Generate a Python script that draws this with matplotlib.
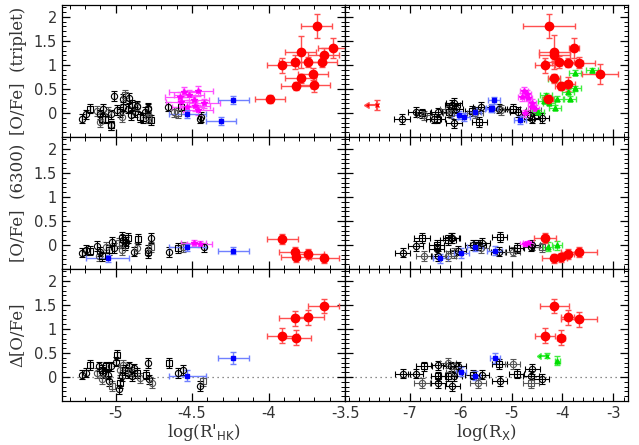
import numpy as np
import matplotlib
matplotlib.use("Agg")
import matplotlib.pyplot as plt
from matplotlib.ticker import MultipleLocator, FixedLocator, FormatStrFormatter

# ---------------- data ----------------
# top-left: [O/Fe] triplet vs log R'HK
tl_red_x = [-3.685, -3.58, -3.79, -3.64, -3.91, -3.83, -3.74, -3.65, -3.79, -3.71, -3.82, -3.70, -3.99]
tl_red_y = [1.81, 1.35, 1.27, 1.20, 0.99, 1.06, 1.06, 1.07, 0.72, 0.81, 0.56, 0.59, 0.29]
tl_red_ye = [0.25, 0.2, 0.33, 0.15, 0.15, 0.15, 0.1, 0.12, 0.1, 0.12, 0.08, 0.15, 0.08]
tl_blue_x = [-4.23, -4.31, -4.53]
tl_blue_y = [0.27, -0.17, -0.02]
tl_blue_xe = [0.1, 0.1, 0.12]
tl_mag_x = [-4.58, -4.55, -4.52, -4.46, -4.49, -4.53, -4.46, -4.42, -4.48, -4.57]
tl_mag_y = [0.33, 0.44, 0.37, 0.46, 0.26, 0.13, 0.06, 0.20, 0.14, 0.23]
tl_blk_x = [-5.22, -5.19, -5.17, -5.12, -5.10, -5.09, -5.08, -5.05, -5.03, -5.01, -4.95, -4.94,
            -4.91, -4.95, -4.97, -4.96, -4.92, -4.89, -4.87, -4.86, -4.84, -4.81, -4.79, -4.78,
            -5.03, -4.99, -5.07, -5.10, -4.90, -4.82, -4.66, -4.62, -4.57, -4.44, -4.45, -4.59,
            -4.86, -4.79, -4.77, -4.79, -5.03]
tl_blk_y = [-0.12, -0.03, 0.09, 0.04, -0.03, -0.12, 0.09, 0.02, -0.26, 0.35, 0.29, 0.37,
            0.31, 0.13, 0.02, -0.08, 0.09, 0.16, 0.02, 0.13, -0.08, 0.02, 0.09, -0.12,
            -0.03, 0.06, -0.12, -0.19, -0.05, -0.10, 0.13, 0.02, 0.13, -0.08, -0.12, 0.0,
            0.14, 0.11, -0.15, -0.08, -0.26]

# top-right: [O/Fe] triplet vs log Rx
tr_red_x = [-4.26, -4.16, -4.16, -3.77, -4.34, -4.07, -3.90, -3.68, -3.26, -4.17, -4.03, -3.90, -4.29]
tr_red_y = [1.81, 1.27, 1.20, 1.35, 0.99, 1.06, 1.05, 1.05, 0.81, 0.72, 0.56, 0.60, 0.29]
tr_red_xe = [0.51, 0.3, 0.3, 0.1, 0.2, 0.3, 0.3, 0.32, 0.36, 0.12, 0.12, 0.15, 0.1]
tr_red_ye = [0.25, 0.35, 0.12, 0.2, 0.15, 0.12, 0.1, 0.12, 0.2, 0.1, 0.08, 0.15, 0.08]
tr_redlim_x = [-7.65]
tr_redlim_y = [0.16]
tr_grn_x = [-3.42, -3.76, -4.17, -3.76, -3.89, -3.85, -4.11, -4.29, -4.37, -4.26, -4.14, -4.48, -4.32]
tr_grn_y = [0.89, 0.84, 0.70, 0.51, 0.44, 0.30, 0.30, 0.28, 0.25, 0.21, 0.11, 0.02, 0.37]
tr_mag_x = [-4.76, -4.70, -4.80, -4.67, -4.60, -4.54, -4.73, -4.60]
tr_mag_y = [0.46, 0.40, 0.33, 0.32, 0.20, 0.09, -0.01, 0.12]
tr_blue_x = [-6.04, -5.94, -5.35, -5.38, -5.40, -4.84, -5.72]
tr_blue_y = [-0.05, -0.08, 0.26, 0.10, 0.09, -0.15, 0.02]
tr_blk_x = [-7.15, -6.88, -6.75, -6.71, -6.44, -6.46, -6.53, -6.25, -6.22, -6.16, -6.13, -6.19,
            -6.13, -6.10, -5.77, -5.72, -5.60, -5.63, -5.24, -5.20, -4.98, -4.88, -4.60, -4.57,
            -4.41, -4.64]
tr_blk_y = [-0.13, 0.02, -0.01, -0.05, 0.01, -0.12, -0.12, 0.09, 0.02, 0.16, 0.21, -0.01,
            -0.22, 0.09, 0.04, -0.01, 0.13, -0.19, 0.09, 0.06, 0.09, 0.02, -0.12, 0.06,
            -0.10, -0.05]

# middle-left: [O/Fe] 6300 vs log R'HK
ml_red_x = [-3.91, -3.83, -3.82, -3.74, -3.64]
ml_red_y = [0.125, -0.15, -0.26, -0.19, -0.28]
ml_blue_x = [-4.23, -4.53, -5.05]
ml_blue_y = [-0.12, -0.05, -0.28]
ml_blue_xe = [0.1, 0.12, 0.14]
ml_mag_x = [-4.49, -4.45]
ml_mag_y = [0.035, 0.015]
ml_blk_x = [-5.22, -5.19, -5.17, -5.11, -5.10, -5.09, -5.12, -5.06, -5.04, -5.02, -5.01, -4.98,
            -4.96, -4.95, -4.94, -4.96, -4.93, -4.92, -4.88, -4.86, -4.85, -4.79, -4.79, -4.77,
            -4.77, -4.65, -4.59, -4.56, -4.42]
ml_blk_y = [-0.16, -0.10, -0.12, -0.23, -0.14, -0.24, -0.02, -0.04, -0.10, 0.07, -0.07, 0.035,
            0.17, 0.10, 0.0, -0.10, 0.07, 0.14, -0.14, -0.07, 0.12, -0.10, -0.17, -0.04,
            0.14, -0.15, -0.07, -0.04, -0.05]

# middle-right: [O/Fe] 6300 vs log Rx
mr_red_x = [-4.34, -4.16, -4.03, -3.90, -3.68]
mr_red_y = [0.14, -0.28, -0.26, -0.19, -0.15]
mr_red_xe = [0.21, 0.25, 0.12, 0.12, 0.35]
mr_grn_x = [-4.29, -4.10]
mr_grn_y = [-0.035, -0.01]
mr_mag_x = [-4.73, -4.67]
mr_mag_y = [0.02, 0.035]
mr_blue_x = [-6.40, -5.99, -5.72, -5.33]
mr_blue_y = [-0.28, -0.17, -0.035, -0.12]
mr_blk_x = [-7.14, -6.88, -6.76, -6.72, -6.44, -6.47, -6.47, -6.25, -6.25, -6.19, -6.16, -6.13,
            -6.05, -5.76, -5.66, -5.60, -5.58, -5.23, -5.25, -4.98, -4.90, -4.62, -4.60, -4.41]
mr_blk_y = [-0.16, -0.02, 0.14, -0.23, -0.23, 0.0, -0.09, -0.23, 0.10, 0.14, 0.15, -0.17,
            -0.12, 0.0, 0.0, -0.07, 0.05, 0.16, -0.14, -0.14, -0.07, -0.035, 0.0, -0.05]

# bottom-left: delta[O/Fe] vs log R'HK
bl_red_x = [-3.64, -3.74, -3.83, -3.91, -3.82]
bl_red_y = [1.48, 1.24, 1.22, 0.86, 0.82]
bl_blue_x = [-4.23, -4.53]
bl_blue_y = [0.40, 0.03]
bl_blue_xe = [0.1, 0.12]
bl_blk_x = [-5.22, -5.19, -5.17, -5.12, -5.11, -5.09, -5.08, -5.09, -5.06, -5.05, -5.04, -5.02,
            -5.03, -5.00, -4.99, -4.97, -4.96, -4.97, -4.98, -4.95, -4.94, -4.92, -4.91, -4.90,
            -4.89, -4.88, -4.86, -4.84, -4.79, -4.80, -4.78, -4.76, -4.65, -4.59, -4.56, -4.43,
            -4.45]
bl_blk_y = [0.05, 0.09, 0.25, 0.08, 0.22, 0.15, 0.08, -0.05, 0.22, 0.05, -0.09, -0.19,
            0.22, 0.32, 0.46, 0.15, 0.01, -0.12, -0.26, 0.25, 0.15, 0.08, 0.22, 0.11,
            0.01, 0.18, 0.08, -0.02, 0.29, 0.05, -0.05, -0.12, 0.29, 0.08, 0.15, -0.09,
            -0.19]

# bottom-right: delta[O/Fe] vs log Rx
br_red_x = [-4.16, -3.90, -3.68, -4.34, -4.03]
br_red_y = [1.48, 1.24, 1.20, 0.86, 0.82]
br_red_xe = [0.29, 0.12, 0.35, 0.2, 0.08]
br_grn_x = [-4.10]
br_grn_y = [0.34]
br_grnlim_x = [-4.31]
br_grnlim_y = [0.44]
br_blue_x = [-5.33, -5.99, -5.72]
br_blue_y = [0.40, 0.11, 0.03]
br_blk_x = [-7.14, -6.88, -6.72, -6.76, -6.44, -6.44, -6.44, -6.25, -6.25, -6.19, -6.16, -6.13,
            -6.13, -6.05, -5.76, -5.66, -5.59, -5.24, -5.23, -4.98, -4.90, -4.62, -4.59, -4.62,
            -4.41]
br_blk_y = [0.07, 0.07, 0.22, -0.12, 0.24, 0.01, -0.12, 0.29, 0.01, 0.22, -0.19, 0.11,
            0.01, 0.22, 0.05, -0.12, 0.05, 0.27, -0.09, 0.27, 0.07, 0.03, 0.16, -0.12,
            -0.04]

y_ticks = [0, 0.5, 1, 1.5, 2]
left_xticks = [-5, -4.5, -4, -3.5]
right_xticks = [-7, -6, -5, -4, -3]

# ---------------- styles ----------------
RED = dict(fmt='o', color='#ff0000', ms=6, ecolor='#ff5050', elinewidth=1.0, capsize=2.5)
BLUE = dict(fmt='s', color='#0000ff', ms=3.5, ecolor='#7080ff', elinewidth=1.0, capsize=2.5)
MAG = dict(fmt='*', color='#ff00ff', ms=4, ecolor='#ff50ff', elinewidth=0.9, capsize=2)
GRN = dict(fmt='^', color='#00dd00', ms=3.5, ecolor='#40ee40', elinewidth=0.9, capsize=2)


def black(ax, x, y, xe, ye):
    for i, (xi, yi) in enumerate(zip(x, y)):
        m = 's' if i % 3 == 2 else 'o'
        c = '#555555' if i % 4 == 3 else 'black'
        ax.errorbar(xi, yi, xerr=xe, yerr=ye, fmt=m, ms=4.5 if m == 'o' else 4,
                    mfc='none', mec=c, mew=0.8, ecolor=c, elinewidth=0.8, capsize=2.2)


fig, axes = plt.subplots(3, 2, figsize=(6.39, 4.45), dpi=100, sharey=True)
fig.subplots_adjust(left=0.097, right=0.983, top=0.989, bottom=0.099, wspace=0, hspace=0)

(a1, b1), (a2, b2), (a3, b3) = axes

# top row
black(a1, tl_blk_x, tl_blk_y, 0, 0.1)
a1.errorbar(tl_mag_x, tl_mag_y, xerr=0.1, yerr=0.1, **MAG)
a1.errorbar(tl_blue_x, tl_blue_y, xerr=tl_blue_xe, yerr=0.08, **BLUE)
a1.errorbar(tl_red_x, tl_red_y, xerr=0.1, yerr=tl_red_ye, **RED)

black(b1, tr_blk_x, tr_blk_y, 0.15, 0.1)
b1.errorbar(tr_mag_x, tr_mag_y, xerr=0.08, yerr=0.08, **MAG)
b1.errorbar(tr_grn_x, tr_grn_y, xerr=0.12, yerr=0.05, **GRN)
b1.errorbar(tr_blue_x, tr_blue_y, xerr=0.12, yerr=0.08, **BLUE)
b1.errorbar(tr_red_x, tr_red_y, xerr=tr_red_xe, yerr=tr_red_ye, **RED)
b1.errorbar(tr_redlim_x, tr_redlim_y, xerr=0.15, yerr=0.1, xuplims=True, fmt='x',
            color='#ff0000', ms=3, ecolor='#ff5050', capsize=2.5)

# middle row
black(a2, ml_blk_x, ml_blk_y, 0, 0.1)
a2.errorbar(ml_mag_x, ml_mag_y, xerr=0.08, yerr=0.06, **MAG)
a2.errorbar(ml_blue_x, ml_blue_y, xerr=ml_blue_xe, yerr=0.07, **BLUE)
a2.errorbar(ml_red_x, ml_red_y, xerr=0.1, yerr=0.1, **RED)

black(b2, mr_blk_x, mr_blk_y, 0.15, 0.1)
b2.errorbar(mr_mag_x, mr_mag_y, xerr=0.1, yerr=0.05, **MAG)
b2.errorbar(mr_grn_x, mr_grn_y, xerr=0.1, yerr=0.1, **GRN)
b2.errorbar(mr_blue_x, mr_blue_y, xerr=0.15, yerr=0.1, **BLUE)
b2.errorbar(mr_red_x, mr_red_y, xerr=mr_red_xe, yerr=0.1, **RED)

# bottom row
black(a3, bl_blk_x, bl_blk_y, 0, 0.1)
a3.errorbar(bl_blue_x, bl_blue_y, xerr=bl_blue_xe, yerr=0.12, **BLUE)
a3.errorbar(bl_red_x, bl_red_y, xerr=0.1, yerr=0.15, **RED)

black(b3, br_blk_x, br_blk_y, 0.15, 0.1)
b3.errorbar(br_blue_x, br_blue_y, xerr=0.1, yerr=0.1, **BLUE)
b3.errorbar(br_grn_x, br_grn_y, xerr=0.05, yerr=0.1, **GRN)
b3.errorbar(br_grnlim_x, br_grnlim_y, xerr=0.12, yerr=0.05, xuplims=True, fmt='x',
            color='#00dd00', ms=3, ecolor='#40ee40', capsize=2)
b3.errorbar(br_red_x, br_red_y, xerr=br_red_xe, yerr=0.15, **RED)

for ax in (a3, b3):
    ax.axhline(0, color='#666666', ls=(0, (1, 3)), lw=0.9, zorder=0)

for ax in (a1, a2, a3):
    ax.set_xlim(-5.35, -3.5)
    ax.xaxis.set_major_locator(FixedLocator(left_xticks))
    ax.xaxis.set_minor_locator(MultipleLocator(0.1))
for ax in (b1, b2, b3):
    ax.set_xlim(-8.27, -2.71)
    ax.xaxis.set_major_locator(FixedLocator(right_xticks))
    ax.xaxis.set_minor_locator(MultipleLocator(0.2))

for ax in axes.flat:
    ax.set_ylim(-0.5, 2.25)
    ax.yaxis.set_major_locator(FixedLocator(y_ticks))
    ax.yaxis.set_minor_locator(MultipleLocator(0.1))
    ax.yaxis.set_major_formatter(FormatStrFormatter('%g'))
    ax.xaxis.set_major_formatter(FormatStrFormatter('%g'))
    ax.tick_params(which='both', direction='in', top=True, right=True, labelsize=10.5,
                   labelcolor='#333333')
    ax.tick_params(which='major', length=6, width=0.9)
    ax.tick_params(which='minor', length=3, width=0.7)
    for s in ax.spines.values():
        s.set_linewidth(0.9)

for ax in (a1, a2, b1, b2):
    ax.tick_params(labelbottom=False)

lab = dict(family='DejaVu Serif', fontsize=12, color='#333333')
a1.set_ylabel('[O/Fe]  (triplet)', labelpad=5, **lab)
a2.set_ylabel('[O/Fe]  (6300)', labelpad=5, **lab)
a3.set_ylabel('Δ[O/Fe]', labelpad=5, **lab)
a3.set_xlabel(r"log(R$'_{\rm HK}$)", labelpad=1, **lab)
b3.set_xlabel(r"log(R$_{\rm X}$)", labelpad=1, **lab)

fig.savefig('out.png', dpi=100)
